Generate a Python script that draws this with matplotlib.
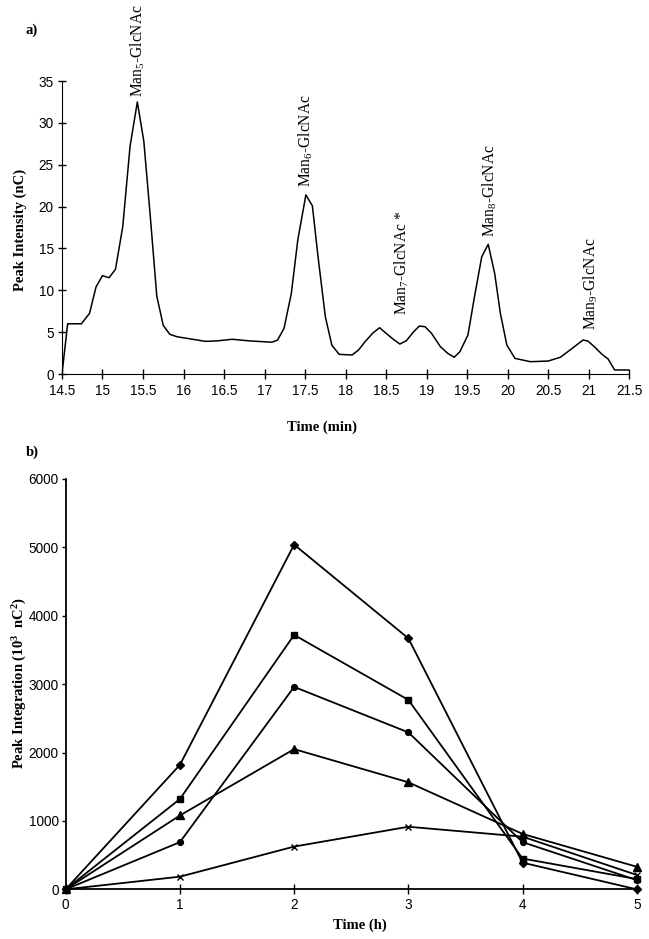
import matplotlib
matplotlib.use("Agg")
import matplotlib.pyplot as plt

plt.rcParams['font.family'] = ['Liberation Sans', 'DejaVu Sans']
plt.rcParams['mathtext.fontset'] = 'custom'
plt.rcParams['mathtext.rm'] = 'Liberation Serif'
plt.rcParams['mathtext.bf'] = 'Liberation Serif:bold'
plt.rcParams['mathtext.it'] = 'Liberation Serif:italic'

# panel a: chromatogram trace (time in min, intensity in nC)
trace_t = [14.5, 14.57, 14.74, 14.84, 14.92, 15.0, 15.08, 15.16, 15.25, 15.34, 15.43,
           15.51, 15.59, 15.67, 15.75, 15.83, 15.92, 16.08, 16.27, 16.41, 16.6, 16.82,
           17.09, 17.16, 17.24, 17.33, 17.41, 17.51, 17.59, 17.66, 17.75, 17.83, 17.92,
           18.08, 18.16, 18.24, 18.34, 18.42, 18.5, 18.59, 18.67, 18.75, 18.84, 18.91,
           18.98, 19.06, 19.17, 19.26, 19.34, 19.41, 19.51, 19.59, 19.68, 19.76, 19.84,
           19.91, 19.99, 20.09, 20.28, 20.5, 20.65, 20.77, 20.93, 20.99, 21.07, 21.16,
           21.24, 21.32, 21.5]
trace_i = [0, 6.0, 6.0, 7.25, 10.4, 11.75, 11.5, 12.5, 17.6, 27.2, 32.5,
           27.8, 18.8, 9.3, 5.8, 4.75, 4.45, 4.2, 3.9, 3.95, 4.15, 3.95,
           3.8, 4.05, 5.45, 9.6, 16.0, 21.4, 20.1, 14.0, 6.85, 3.45, 2.35,
           2.27, 2.87, 3.86, 4.93, 5.53, 4.86, 4.14, 3.58, 3.98, 5.05, 5.73,
           5.65, 4.86, 3.27, 2.47, 2.0, 2.66, 4.66, 9.2, 14.0, 15.5, 12.0,
           7.25, 3.46, 1.87, 1.47, 1.55, 2.0, 2.87, 4.06, 3.94, 3.26, 2.39,
           1.79, 0.48, 0.48]

peak_names = [r'Man$_{\mathrm{5}}$-GlcNAc', r'Man$_{\mathrm{6}}$-GlcNAc',
              r'Man$_{\mathrm{7}}$-GlcNAc *', r'Man$_{\mathrm{8}}$-GlcNAc',
              r'Man$_{\mathrm{9}}$-GlcNAc']
peak_t = [15.43, 17.51, 18.69, 19.78, 21.02]
peak_y = [33.1, 22.3, 7.05, 16.4, 5.25]

# panel b: peak integration over time
hours = [0, 1, 2, 3, 4, 5]
diamond = [0, 1820, 5040, 3670, 390, 0]
square = [0, 1320, 3720, 2770, 450, 150]
circle = [0, 690, 2960, 2295, 690, 135]
triangle = [0, 1080, 2050, 1565, 810, 330]
cross = [0, 185, 625, 915, 770, 210]

fig = plt.figure(figsize=(6.49, 9.39), dpi=100)

# ---- panel a
ax1 = fig.add_axes([0.0955, 0.6017, 0.874, 0.312])
ax1.plot(trace_t, trace_i, color='black', lw=1.1)
ax1.set_xlim(14.5, 21.5)
ax1.set_ylim(0, 35)
ax1.set_xticks([14.5 + 0.5 * k for k in range(15)])
ax1.set_xticklabels(['%g' % (14.5 + 0.5 * k) for k in range(15)])
ax1.set_yticks(range(0, 36, 5))
ax1.spines['top'].set_visible(False)
ax1.spines['right'].set_visible(False)
ax1.tick_params(axis='x', direction='inout', length=7, width=1, labelsize=9.8, pad=4)
ax1.tick_params(axis='y', direction='inout', length=6, width=1, labelsize=9.8, pad=3)
for name, t, y in zip(peak_names, peak_t, peak_y):
    ax1.text(t, y, name, rotation=90, ha='center', va='bottom',
             family='Liberation Serif', fontsize=11.2, clip_on=False)

fig.text(0.496, 0.545, 'Time (min)', ha='center', va='center',
         family='Liberation Serif', weight='bold', fontsize=10.5)
fig.text(0.031, 0.755, 'Peak Intensity (nC)', ha='center', va='center', rotation=90,
         family='Liberation Serif', weight='bold', fontsize=10.5)
fig.text(0.04, 0.968, 'a)', ha='left', va='center',
         family='Liberation Serif', weight='bold', fontsize=10.5)

# ---- panel b
ax2 = fig.add_axes([0.1012, 0.0529, 0.880, 0.437])
styles = [(diamond, 'D', 3.8), (square, 's', 4.2), (circle, 'o', 4.2),
          (triangle, '^', 5.2), (cross, 'x', 5)]
for vals, mk, ms in styles:
    ax2.plot(hours, vals, color='black', lw=1.3, marker=mk, markersize=ms,
             markeredgewidth=1.0, clip_on=False, zorder=3)
ax2.set_xlim(0, 5)
ax2.set_ylim(0, 6000)
ax2.set_xticks(hours)
ax2.set_yticks(range(0, 6001, 1000))
ax2.spines['top'].set_visible(False)
ax2.spines['right'].set_visible(False)
ax2.spines['left'].set_linewidth(1.3)
ax2.spines['bottom'].set_linewidth(1.3)
ax2.tick_params(axis='x', direction='inout', length=7, width=1, labelsize=9.8, pad=3)
ax2.tick_params(axis='y', direction='out', length=3, width=1, labelsize=9.8, pad=2)

fig.text(0.555, 0.015, 'Time (h)', ha='center', va='center',
         family='Liberation Serif', weight='bold', fontsize=10.5)
fig.text(0.031, 0.272, r'Peak Integration (10$^{\mathbf{3}}$  nC$^{\mathbf{2}}$)',
         ha='center', va='center', rotation=90,
         family='Liberation Serif', weight='bold', fontsize=10.5)
fig.text(0.04, 0.518, 'b)', ha='left', va='center',
         family='Liberation Serif', weight='bold', fontsize=10.5)

fig.savefig('out.png', dpi=100)
